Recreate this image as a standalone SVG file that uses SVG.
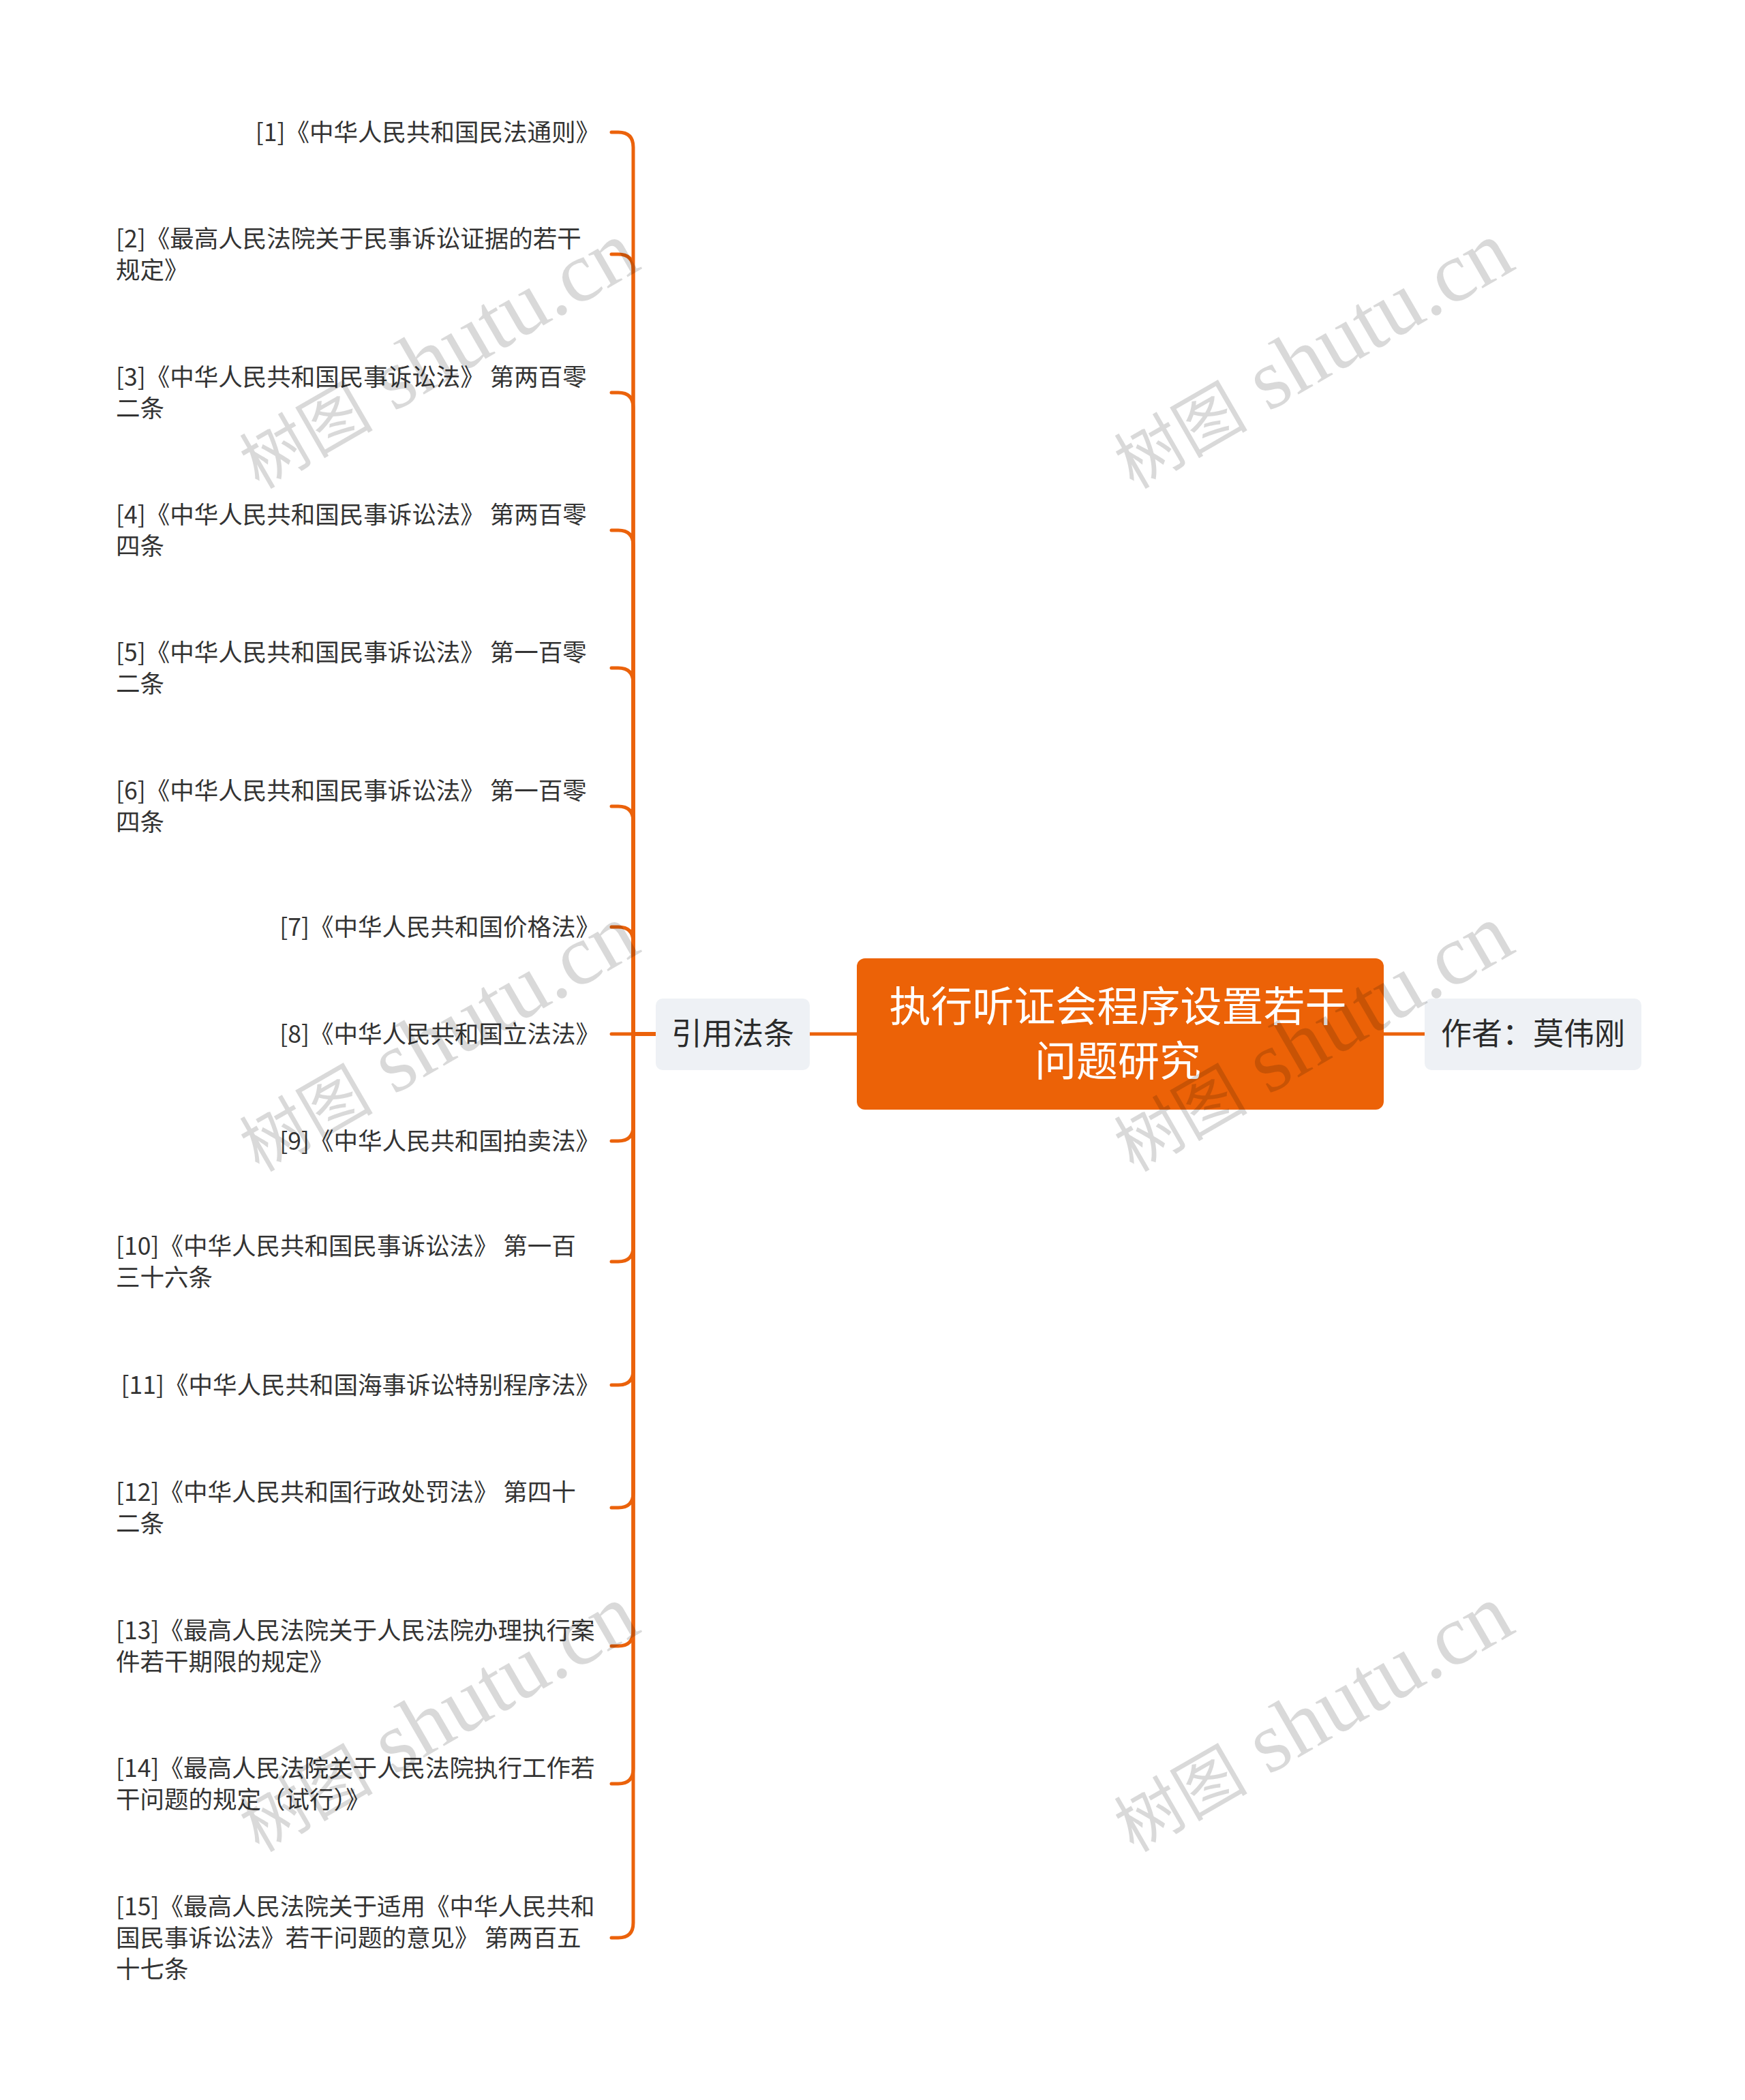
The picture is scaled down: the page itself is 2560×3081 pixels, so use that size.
<svg xmlns="http://www.w3.org/2000/svg" width="2560" height="3081" viewBox="0 0 2560 3081">
<style>
.bg{fill:#ffffff}
.conn{fill:none;stroke:#EB620B;stroke-width:5;stroke-linecap:round;stroke-linejoin:round}
.leaf{font-family:"Noto Sans CJK SC","Noto Sans",sans-serif;font-size:35.5px;fill:#333333}
.sub{font-family:"Noto Sans CJK SC","Noto Sans",sans-serif;font-size:45px;fill:#2b2b2b}
.root{font-family:"Noto Sans CJK SC","Noto Sans",sans-serif;font-size:61px;fill:#ffffff}
.subbox{fill:#EEF1F5}
.rootbox{fill:#EC6207}
.wm{font-family:"Liberation Serif","Noto Sans CJK SC",serif;font-size:126px;fill:#000000;fill-opacity:0.15}
.wmc{font-family:"Noto Sans CJK SC",sans-serif;font-size:98px}
</style>
<rect class="bg" x="0" y="0" width="2560" height="3081"/>
<g id="connectors">
<path class="conn" d="M1257 1517 H1188"/>
<path class="conn" d="M2030 1517 H2090"/>
<path class="conn" d="M962 1517 H929 V216 Q929 194 907 194 H897"/>
<path class="conn" d="M962 1517 H929 V395 Q929 373 907 373 H897"/>
<path class="conn" d="M962 1517 H929 V598 Q929 576 907 576 H897"/>
<path class="conn" d="M962 1517 H929 V800 Q929 778 907 778 H897"/>
<path class="conn" d="M962 1517 H929 V1002 Q929 980 907 980 H897"/>
<path class="conn" d="M962 1517 H929 V1205 Q929 1183 907 1183 H897"/>
<path class="conn" d="M962 1517 H929 V1382 Q929 1360 907 1360 H897"/>
<path class="conn" d="M962 1517 H897"/>
<path class="conn" d="M962 1517 H929 V1652 Q929 1674 907 1674 H897"/>
<path class="conn" d="M962 1517 H929 V1829 Q929 1851 907 1851 H897"/>
<path class="conn" d="M962 1517 H929 V2010 Q929 2032 907 2032 H897"/>
<path class="conn" d="M962 1517 H929 V2190 Q929 2212 907 2212 H897"/>
<path class="conn" d="M962 1517 H929 V2393 Q929 2415 907 2415 H897"/>
<path class="conn" d="M962 1517 H929 V2595 Q929 2617 907 2617 H897"/>
<path class="conn" d="M962 1517 H929 V2821 Q929 2843 907 2843 H897"/>
</g>
<g id="root">
<rect class="rootbox" x="1257" y="1406" width="773" height="222" rx="12"/>
<text class="root" x="1640" y="1499" text-anchor="middle">执行听证会程序设置若干</text>
<text class="root" x="1640" y="1579" text-anchor="middle">问题研究</text>
</g>
<g id="sub-left">
<rect class="subbox" x="962" y="1465" width="226" height="105" rx="10"/>
<text class="sub" x="1075" y="1533" text-anchor="middle">引用法条</text>
</g>
<g id="sub-right">
<rect class="subbox" x="2090" y="1465" width="318" height="105" rx="10"/>
<text class="sub" x="2249" y="1533" text-anchor="middle">作者：莫伟刚</text>
</g>
<g id="leaf1"><text class="leaf" x="880" y="207" text-anchor="end">[1]《中华人民共和国民法通则》</text></g>
<g id="leaf2"><text class="leaf" x="170" y="363">[2]《最高人民法院关于民事诉讼证据的若干</text><text class="leaf" x="170" y="409">规定》</text></g>
<g id="leaf3"><text class="leaf" x="170" y="566">[3]《中华人民共和国民事诉讼法》 第两百零</text><text class="leaf" x="170" y="612">二条</text></g>
<g id="leaf4"><text class="leaf" x="170" y="768">[4]《中华人民共和国民事诉讼法》 第两百零</text><text class="leaf" x="170" y="814">四条</text></g>
<g id="leaf5"><text class="leaf" x="170" y="970">[5]《中华人民共和国民事诉讼法》 第一百零</text><text class="leaf" x="170" y="1016">二条</text></g>
<g id="leaf6"><text class="leaf" x="170" y="1173">[6]《中华人民共和国民事诉讼法》 第一百零</text><text class="leaf" x="170" y="1219">四条</text></g>
<g id="leaf7"><text class="leaf" x="880" y="1373" text-anchor="end">[7]《中华人民共和国价格法》</text></g>
<g id="leaf8"><text class="leaf" x="880" y="1530" text-anchor="end">[8]《中华人民共和国立法法》</text></g>
<g id="leaf9"><text class="leaf" x="880" y="1687" text-anchor="end">[9]《中华人民共和国拍卖法》</text></g>
<g id="leaf10"><text class="leaf" x="170" y="1841">[10]《中华人民共和国民事诉讼法》 第一百</text><text class="leaf" x="170" y="1887">三十六条</text></g>
<g id="leaf11"><text class="leaf" x="880" y="2045" text-anchor="end">[11]《中华人民共和国海事诉讼特别程序法》</text></g>
<g id="leaf12"><text class="leaf" x="170" y="2202">[12]《中华人民共和国行政处罚法》 第四十</text><text class="leaf" x="170" y="2248">二条</text></g>
<g id="leaf13"><text class="leaf" x="170" y="2405">[13]《最高人民法院关于人民法院办理执行案</text><text class="leaf" x="170" y="2451">件若干期限的规定》</text></g>
<g id="leaf14"><text class="leaf" x="170" y="2607">[14]《最高人民法院关于人民法院执行工作若</text><text class="leaf" x="170" y="2653">干问题的规定（试行）》</text></g>
<g id="leaf15"><text class="leaf" x="170" y="2810">[15]《最高人民法院关于适用《中华人民共和</text><text class="leaf" x="170" y="2856">国民事诉讼法》若干问题的意见》 第两百五</text><text class="leaf" x="170" y="2902">十七条</text></g>
<g id="watermarks">
<text class="wm" text-anchor="middle" transform="translate(642 521) rotate(-30)" y="40"><tspan class="wmc">树图</tspan> shutu.cn</text>
<text class="wm" text-anchor="middle" transform="translate(1925 521) rotate(-30)" y="40"><tspan class="wmc">树图</tspan> shutu.cn</text>
<text class="wm" text-anchor="middle" transform="translate(642 1523) rotate(-30)" y="40"><tspan class="wmc">树图</tspan> shutu.cn</text>
<text class="wm" text-anchor="middle" transform="translate(1925 1523) rotate(-30)" y="40"><tspan class="wmc">树图</tspan> shutu.cn</text>
<text class="wm" text-anchor="middle" transform="translate(642 2521) rotate(-30)" y="40"><tspan class="wmc">树图</tspan> shutu.cn</text>
<text class="wm" text-anchor="middle" transform="translate(1925 2521) rotate(-30)" y="40"><tspan class="wmc">树图</tspan> shutu.cn</text>
</g>
</svg>
